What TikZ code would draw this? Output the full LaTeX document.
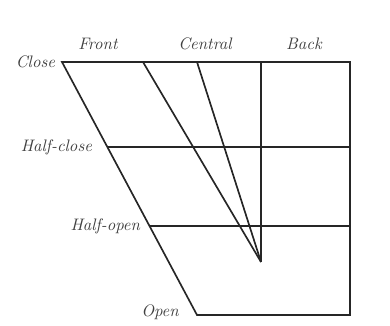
\documentclass[tikz,border=0pt]{standalone}
\usepackage{tikz}
\usetikzlibrary{calc}

\tikzset{
  vowelline/.style={line width=1pt, black!85},
  vlabel/.style={font=\itshape, inner sep=1pt, text=black!75}
}

\begin{document}
\begin{tikzpicture}[x=0.6pt, y=-0.6pt]
    \useasboundingbox (0,0) rectangle (390,326);

    % Rohy lichoběžníku
    \coordinate (closefront) at (62,62);
    \coordinate (closeback) at (350,62);
    \coordinate (openfront) at (197,315);
    \coordinate (openback) at (350,315);
    \coordinate (tip) at (261,262);

    % Vodorovné úrovně
    \coordinate (hcleft) at ($(closefront)!0.336!(openfront)$);
    \coordinate (holeft) at ($(closefront)!0.648!(openfront)$);
    \coordinate (hcright) at (350,147);
    \coordinate (horight) at (350,226);

    % Obrys
    \draw[vowelline] (closefront) -- (closeback) -- (openback) -- (openfront) -- cycle;
    \draw[vowelline] (hcleft) -- (hcright);
    \draw[vowelline] (holeft) -- (horight);

    % Centrální trojúhelník
    \coordinate (d1) at (143,62);
    \coordinate (d2) at (197,62);
    \coordinate (d3) at (261,62);
    \foreach \c in {d1, d2, d3}
        \draw[vowelline] (\c) -- (tip);

    % Popisky
    \node[vlabel, anchor=east] (close) at (57,62) {Close};
    \node[vlabel] (front) at (98,44) {Front};
    \node[vlabel] (central) at (205,44) {Central};
    \node[vlabel] (back) at (304,44) {Back};
    \node[vlabel, anchor=east] (halfclose) at (94,147) {Half-close};
    \node[vlabel, anchor=east] (halfopen) at (142,226) {Half-open};
    \node[vlabel] (open) at (160,312) {Open};
\end{tikzpicture}
\end{document}
